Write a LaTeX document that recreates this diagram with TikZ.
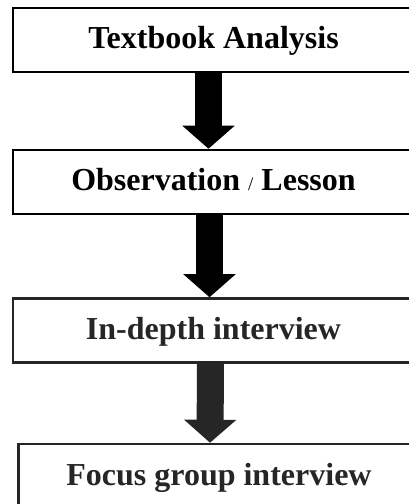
\documentclass[tikz,border=0pt]{standalone}
\usepackage{fontspec}
\setmainfont{Liberation Serif}
\usepackage{tikz}
\usetikzlibrary{arrows.meta}
\definecolor{figInk}{HTML}{000000}
\definecolor{figDark}{HTML}{262626}

\begin{document}
\begin{tikzpicture}[x=1pt, y=1pt,
  every node/.style={font=\fontsize{32}{38}\selectfont\bfseries},
  stage/.style={draw=figInk, text=figInk, line width=2.5pt,
    minimum width=401pt, minimum height=64pt, inner sep=0pt,
    text height=22pt, text depth=4pt},
  faded/.style={draw=figDark, text=figDark},
  flow/.style={line width=27pt, figInk,
    -{Triangle[length=23pt, width=51pt]}},
]
\useasboundingbox (0,0) rectangle (409,504);
\clip (0,0) rectangle (409,504);

% Stages
\node[stage] (analysis) at (213.5, 464) {Textbook Analysis};
\node[stage] (observation) at (213.5, 322)
  {Observation {\fontsize{19}{22}\selectfont\mdseries /} Lesson};
\node[stage, faded] (interview) at (213.5, 173.5) {In-depth interview};
\node[stage, faded] (focus) at (219, 28) {Focus group interview};

% Arrows
\draw[flow] ([xshift=-5pt]analysis.south) -- ([xshift=-5pt]observation.north);
\draw[flow] ([xshift=-4pt]observation.south) -- ([xshift=-4pt]interview.north);
\draw[flow, figDark] ([xshift=-3pt]interview.south) -- ([xshift=-9pt]focus.north);

\end{tikzpicture}
\end{document}
